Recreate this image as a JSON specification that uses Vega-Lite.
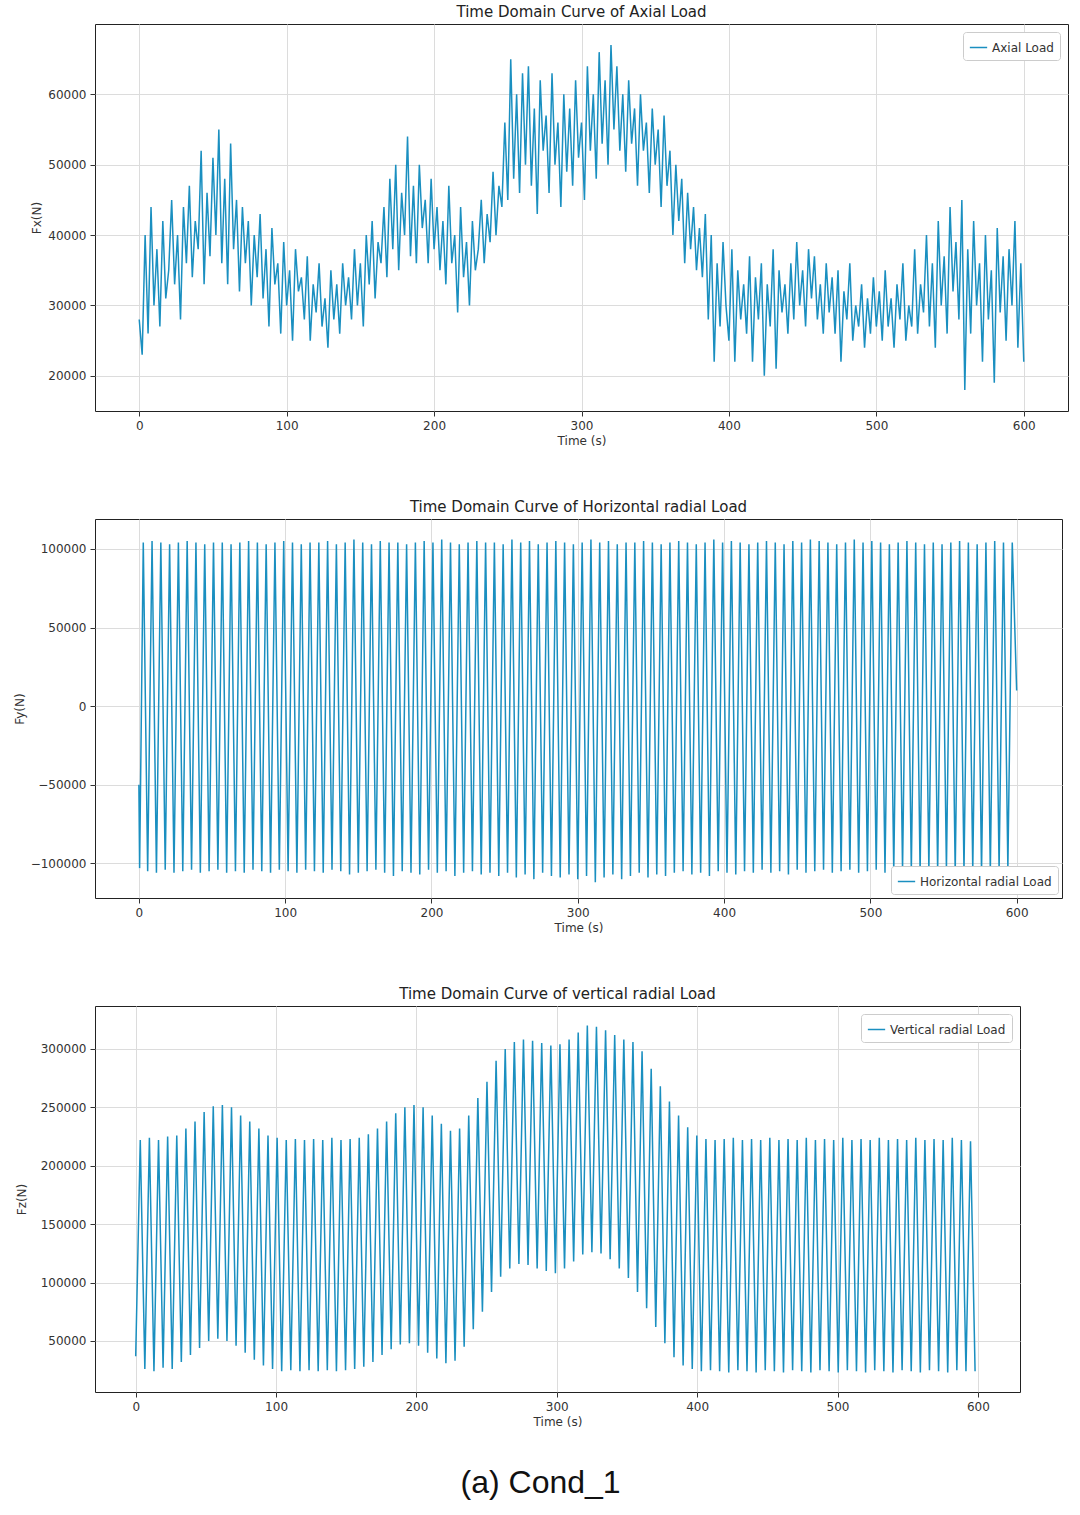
{
"$schema":"https://vega.github.io/schema/vega-lite/v6.json",
"padding":{"left":12,"top":4,"right":5,"bottom":5},
"align":"none",
"center":true,
"config":{"font":"DejaVu Sans","view":{"stroke":"#222"},"axis":{"gridColor":"#dcdcdc","labelFontSize":12,"labelColor":"#333","titleFontSize":12,"titleFontWeight":"normal","titleColor":"#333","domain":false,"tickColor":"#333","labelPadding":4,"format":"d"},"title":{"fontSize":15,"fontWeight":"normal","color":"#222","offset":4},"legend":{"labelFontSize":12,"labelColor":"#333","symbolType":"stroke","symbolStrokeWidth":1.5,"strokeColor":"#ccc","fillColor":"white","padding":6,"cornerRadius":3,"title":null,"symbolSize":300}},
"spacing":52,
"resolve":{"scale":{"color":"independent"},"legend":{"color":"independent"}},
"title":{"text":"(a)  Cond_1","orient":"bottom","anchor":"middle","font":"Liberation Sans","fontSize":32,"fontWeight":"normal","color":"#111","offset":40},
"vconcat":[
{"title":"Time Domain Curve of Axial Load","width":973,"height":387,
"data":{"values":[
{"t":0,"v":28000},{"t":2,"v":23000},{"t":4,"v":40000},{"t":6,"v":26000},{"t":8,"v":44000},{"t":10,"v":30000},{"t":12,"v":38000},{"t":14,"v":27000},{"t":16,"v":42000},{"t":18,"v":31000},{"t":20,"v":35000},
{"t":22,"v":45000},{"t":24,"v":33000},{"t":26,"v":40000},{"t":28,"v":28000},{"t":30,"v":44000},{"t":32,"v":36000},{"t":34,"v":47000},{"t":36,"v":34000},{"t":38,"v":42000},{"t":40,"v":38000},{"t":42,"v":52000},{"t":44,"v":33000},{"t":46,"v":46000},{"t":48,"v":37000},{"t":50,"v":51000},
{"t":52,"v":40000},{"t":54,"v":55000},{"t":56,"v":36000},{"t":58,"v":48000},{"t":60,"v":33000},{"t":62,"v":53000},{"t":64,"v":38000},{"t":66,"v":45000},{"t":68,"v":32000},{"t":70,"v":44000},{"t":72,"v":36000},{"t":74,"v":42000},{"t":76,"v":30000},{"t":78,"v":40000},{"t":80,"v":34000},
{"t":82,"v":43000},{"t":84,"v":31000},{"t":86,"v":38000},{"t":88,"v":27000},{"t":90,"v":41000},{"t":92,"v":33000},{"t":94,"v":36000},{"t":96,"v":26000},{"t":98,"v":39000},{"t":100,"v":30000},{"t":102,"v":35000},{"t":104,"v":25000},{"t":106,"v":38000},{"t":108,"v":32000},{"t":110,"v":34000},
{"t":112,"v":28000},{"t":114,"v":37000},{"t":116,"v":25000},{"t":118,"v":33000},{"t":120,"v":29000},{"t":122,"v":36000},{"t":124,"v":27000},{"t":126,"v":31000},{"t":128,"v":24000},{"t":130,"v":35000},{"t":132,"v":28000},{"t":134,"v":33000},{"t":136,"v":26000},{"t":138,"v":36000},{"t":140,"v":30000},
{"t":142,"v":34000},{"t":144,"v":28000},{"t":146,"v":38000},{"t":148,"v":30000},{"t":150,"v":36000},{"t":152,"v":27000},{"t":154,"v":40000},{"t":156,"v":33000},{"t":158,"v":42000},{"t":160,"v":31000},{"t":162,"v":39000},{"t":164,"v":36000},{"t":166,"v":44000},{"t":168,"v":34000},{"t":170,"v":48000},
{"t":172,"v":38000},{"t":174,"v":50000},{"t":176,"v":35000},{"t":178,"v":46000},{"t":180,"v":40000},{"t":182,"v":54000},{"t":184,"v":37000},{"t":186,"v":47000},{"t":188,"v":36000},{"t":190,"v":50000},{"t":192,"v":41000},{"t":194,"v":45000},{"t":196,"v":36000},{"t":198,"v":48000},{"t":200,"v":38000},
{"t":202,"v":44000},{"t":204,"v":35000},{"t":206,"v":42000},{"t":208,"v":33000},{"t":210,"v":47000},{"t":212,"v":36000},{"t":214,"v":40000},{"t":216,"v":29000},{"t":218,"v":44000},{"t":220,"v":34000},{"t":222,"v":39000},{"t":224,"v":30000},{"t":226,"v":42000},{"t":228,"v":35000},{"t":230,"v":38000},
{"t":232,"v":45000},{"t":234,"v":36000},{"t":236,"v":43000},{"t":238,"v":39000},{"t":240,"v":49000},{"t":242,"v":40000},{"t":244,"v":47000},{"t":246,"v":44000},{"t":248,"v":56000},{"t":250,"v":45000},{"t":252,"v":65000},{"t":254,"v":48000},{"t":256,"v":60000},{"t":258,"v":46000},{"t":260,"v":63000},
{"t":262,"v":50000},{"t":264,"v":64000},{"t":266,"v":47000},{"t":268,"v":58000},{"t":270,"v":43000},{"t":272,"v":62000},{"t":274,"v":52000},{"t":276,"v":57000},{"t":278,"v":46000},{"t":280,"v":63000},{"t":282,"v":50000},{"t":284,"v":56000},{"t":286,"v":44000},{"t":288,"v":60000},{"t":290,"v":49000},
{"t":292,"v":58000},{"t":294,"v":47000},{"t":296,"v":62000},{"t":298,"v":51000},{"t":300,"v":56000},{"t":302,"v":45000},{"t":304,"v":64000},{"t":306,"v":52000},{"t":308,"v":60000},{"t":310,"v":48000},{"t":312,"v":66000},{"t":314,"v":53000},{"t":316,"v":62000},{"t":318,"v":50000},{"t":320,"v":67000},
{"t":322,"v":55000},{"t":324,"v":64000},{"t":326,"v":52000},{"t":328,"v":60000},{"t":330,"v":49000},{"t":332,"v":62000},{"t":334,"v":53000},{"t":336,"v":58000},{"t":338,"v":47000},{"t":340,"v":60000},{"t":342,"v":52000},{"t":344,"v":56000},{"t":346,"v":46000},{"t":348,"v":58000},{"t":350,"v":50000},
{"t":352,"v":55000},{"t":354,"v":44000},{"t":356,"v":57000},{"t":358,"v":47000},{"t":360,"v":52000},{"t":362,"v":40000},{"t":364,"v":50000},{"t":366,"v":42000},{"t":368,"v":48000},{"t":370,"v":36000},{"t":372,"v":46000},{"t":374,"v":38000},{"t":376,"v":44000},{"t":378,"v":35000},{"t":380,"v":41000},
{"t":382,"v":34000},{"t":384,"v":43000},{"t":386,"v":28000},{"t":388,"v":40000},{"t":390,"v":22000},{"t":392,"v":36000},{"t":394,"v":27000},{"t":396,"v":39000},{"t":398,"v":30000},{"t":400,"v":25000},{"t":402,"v":38000},{"t":404,"v":22000},{"t":406,"v":35000},{"t":408,"v":28000},{"t":410,"v":33000},
{"t":412,"v":26000},{"t":414,"v":37000},{"t":416,"v":22000},{"t":418,"v":34000},{"t":420,"v":28000},{"t":422,"v":36000},{"t":424,"v":20000},{"t":426,"v":33000},{"t":428,"v":27000},{"t":430,"v":38000},{"t":432,"v":21000},{"t":434,"v":35000},{"t":436,"v":29000},{"t":438,"v":33000},{"t":440,"v":26000},
{"t":442,"v":36000},{"t":444,"v":28000},{"t":446,"v":39000},{"t":448,"v":30000},{"t":450,"v":35000},{"t":452,"v":27000},{"t":454,"v":38000},{"t":456,"v":31000},{"t":458,"v":37000},{"t":460,"v":28000},{"t":462,"v":33000},{"t":464,"v":26000},{"t":466,"v":36000},{"t":468,"v":29000},{"t":470,"v":34000},
{"t":472,"v":26000},{"t":474,"v":35000},{"t":476,"v":22000},{"t":478,"v":32000},{"t":480,"v":28000},{"t":482,"v":36000},{"t":484,"v":25000},{"t":486,"v":30000},{"t":488,"v":27000},{"t":490,"v":33000},{"t":492,"v":24000},{"t":494,"v":31000},{"t":496,"v":26000},{"t":498,"v":34000},{"t":500,"v":27000},
{"t":502,"v":32000},{"t":504,"v":25000},{"t":506,"v":35000},{"t":508,"v":27000},{"t":510,"v":31000},{"t":512,"v":24000},{"t":514,"v":33000},{"t":516,"v":28000},{"t":518,"v":36000},{"t":520,"v":25000},{"t":522,"v":30000},{"t":524,"v":27000},{"t":526,"v":38000},{"t":528,"v":26000},{"t":530,"v":33000},
{"t":532,"v":29000},{"t":534,"v":40000},{"t":536,"v":27000},{"t":538,"v":36000},{"t":540,"v":24000},{"t":542,"v":42000},{"t":544,"v":30000},{"t":546,"v":37000},{"t":548,"v":26000},{"t":550,"v":44000},{"t":552,"v":32000},{"t":554,"v":39000},{"t":556,"v":28000},{"t":558,"v":45000},{"t":560,"v":18000},
{"t":562,"v":38000},{"t":564,"v":26000},{"t":566,"v":42000},{"t":568,"v":30000},{"t":570,"v":36000},{"t":572,"v":22000},{"t":574,"v":40000},{"t":576,"v":28000},{"t":578,"v":35000},{"t":580,"v":19000},{"t":582,"v":41000},{"t":584,"v":29000},{"t":586,"v":37000},{"t":588,"v":25000},{"t":590,"v":38000},
{"t":592,"v":30000},{"t":594,"v":42000},{"t":596,"v":24000},{"t":598,"v":36000},{"t":600,"v":22000}
]},
"mark":{"type":"line","strokeWidth":1.5},
"encoding":{
"x":{"field":"t","type":"quantitative","scale":{"domain":[-30,630],"nice":false},"axis":{"values":[0,100,200,300,400,500,600],"title":"Time (s)"}},
"y":{"field":"v","type":"quantitative","scale":{"domain":[15000,70000],"nice":false,"zero":false},"axis":{"values":[20000,30000,40000,50000,60000],"title":"Fx(N)"}},
"color":{"datum":"Axial Load","scale":{"range":["#1a8fc0"]},"legend":{"orient":"top-right","offset":8}}}},
{"title":"Time Domain Curve of Horizontal radial Load","width":967,"height":379,
"data":{"values":[
{"t":0,"v":-50000},{"t":0.5,"v":-103000},
{"t":3,"v":104000},{"t":6,"v":-105000},{"t":9,"v":105000},{"t":12,"v":-106000},{"t":15,"v":104000},{"t":18,"v":-104000},{"t":21,"v":103000},{"t":24,"v":-106000},{"t":27,"v":104000},{"t":30,"v":-105000},{"t":33,"v":105000},{"t":36,"v":-104000},{"t":39,"v":104000},{"t":42,"v":-106000},{"t":45,"v":103000},{"t":48,"v":-105000},{"t":51,"v":104000},{"t":54,"v":-104000},{"t":57,"v":104000},{"t":60,"v":-106000},
{"t":63,"v":103000},{"t":66,"v":-105000},{"t":69,"v":104000},{"t":72,"v":-106000},{"t":75,"v":105000},{"t":78,"v":-104000},{"t":81,"v":104000},{"t":84,"v":-105000},{"t":87,"v":103000},{"t":90,"v":-106000},{"t":93,"v":104000},{"t":96,"v":-104000},{"t":99,"v":105000},{"t":102,"v":-105000},{"t":105,"v":104000},{"t":108,"v":-106000},{"t":111,"v":103000},{"t":114,"v":-104000},{"t":117,"v":104000},{"t":120,"v":-105000},
{"t":123,"v":104000},{"t":126,"v":-106000},{"t":129,"v":105000},{"t":132,"v":-104000},{"t":135,"v":103000},{"t":138,"v":-105000},{"t":141,"v":104000},{"t":144,"v":-107000},{"t":147,"v":106000},{"t":150,"v":-106000},{"t":153,"v":104000},{"t":156,"v":-105000},{"t":159,"v":103000},{"t":162,"v":-104000},{"t":165,"v":105000},{"t":168,"v":-106000},{"t":171,"v":104000},{"t":174,"v":-108000},{"t":177,"v":104000},{"t":180,"v":-105000},
{"t":183,"v":103000},{"t":186,"v":-106000},{"t":189,"v":104000},{"t":192,"v":-107000},{"t":195,"v":105000},{"t":198,"v":-104000},{"t":201,"v":104000},{"t":204,"v":-106000},{"t":207,"v":106000},{"t":210,"v":-105000},{"t":213,"v":104000},{"t":216,"v":-108000},{"t":219,"v":103000},{"t":222,"v":-106000},{"t":225,"v":104000},{"t":228,"v":-105000},{"t":231,"v":105000},{"t":234,"v":-107000},{"t":237,"v":104000},{"t":240,"v":-106000},
{"t":243,"v":104000},{"t":246,"v":-108000},{"t":249,"v":103000},{"t":252,"v":-106000},{"t":255,"v":106000},{"t":258,"v":-109000},{"t":261,"v":104000},{"t":264,"v":-107000},{"t":267,"v":105000},{"t":270,"v":-110000},{"t":273,"v":103000},{"t":276,"v":-106000},{"t":279,"v":104000},{"t":282,"v":-108000},{"t":285,"v":105000},{"t":288,"v":-109000},{"t":291,"v":104000},{"t":294,"v":-107000},{"t":297,"v":103000},{"t":300,"v":-110000},
{"t":303,"v":104000},{"t":306,"v":-108000},{"t":309,"v":106000},{"t":312,"v":-112000},{"t":315,"v":104000},{"t":318,"v":-109000},{"t":321,"v":105000},{"t":324,"v":-107000},{"t":327,"v":103000},{"t":330,"v":-110000},{"t":333,"v":104000},{"t":336,"v":-108000},{"t":339,"v":104000},{"t":342,"v":-106000},{"t":345,"v":105000},{"t":348,"v":-109000},{"t":351,"v":104000},{"t":354,"v":-107000},{"t":357,"v":103000},{"t":360,"v":-108000},
{"t":363,"v":104000},{"t":366,"v":-106000},{"t":369,"v":105000},{"t":372,"v":-105000},{"t":375,"v":104000},{"t":378,"v":-107000},{"t":381,"v":103000},{"t":384,"v":-106000},{"t":387,"v":104000},{"t":390,"v":-108000},{"t":393,"v":106000},{"t":396,"v":-105000},{"t":399,"v":104000},{"t":402,"v":-106000},{"t":405,"v":105000},{"t":408,"v":-107000},{"t":411,"v":104000},{"t":414,"v":-105000},{"t":417,"v":103000},{"t":420,"v":-106000},
{"t":423,"v":104000},{"t":426,"v":-104000},{"t":429,"v":105000},{"t":432,"v":-106000},{"t":435,"v":104000},{"t":438,"v":-105000},{"t":441,"v":103000},{"t":444,"v":-107000},{"t":447,"v":105000},{"t":450,"v":-104000},{"t":453,"v":104000},{"t":456,"v":-106000},{"t":459,"v":106000},{"t":462,"v":-105000},{"t":465,"v":105000},{"t":468,"v":-104000},{"t":471,"v":104000},{"t":474,"v":-106000},{"t":477,"v":103000},{"t":480,"v":-105000},
{"t":483,"v":104000},{"t":486,"v":-104000},{"t":489,"v":106000},{"t":492,"v":-106000},{"t":495,"v":104000},{"t":498,"v":-105000},{"t":501,"v":105000},{"t":504,"v":-104000},{"t":507,"v":104000},{"t":510,"v":-106000},{"t":513,"v":103000},{"t":516,"v":-105000},{"t":519,"v":104000},{"t":522,"v":-104000},{"t":525,"v":105000},{"t":528,"v":-105000},{"t":531,"v":104000},{"t":534,"v":-106000},{"t":537,"v":103000},{"t":540,"v":-104000},
{"t":543,"v":104000},{"t":546,"v":-105000},{"t":549,"v":103000},{"t":552,"v":-104000},{"t":555,"v":104000},{"t":558,"v":-106000},{"t":561,"v":105000},{"t":564,"v":-105000},{"t":567,"v":104000},{"t":570,"v":-104000},{"t":573,"v":103000},{"t":576,"v":-106000},{"t":579,"v":104000},{"t":582,"v":-105000},{"t":585,"v":105000},{"t":588,"v":-104000},{"t":591,"v":104000},{"t":594,"v":-103000},{"t":597,"v":104000},{"t":600,"v":10000}
]},
"mark":{"type":"line","strokeWidth":1.5},
"encoding":{
"x":{"field":"t","type":"quantitative","scale":{"domain":[-30,631],"nice":false},"axis":{"values":[0,100,200,300,400,500,600],"title":"Time (s)"}},
"y":{"field":"v","type":"quantitative","scale":{"domain":[-122000,119000],"nice":false,"zero":false},"axis":{"values":[-100000,-50000,0,50000,100000],"title":"Fy(N)"}},
"color":{"datum":"Horizontal radial Load","scale":{"range":["#1a8fc0"]},"legend":{"orient":"bottom-right","offset":4}}}},
{"title":"Time Domain Curve of vertical radial Load","width":925,"height":386,
"data":{"values":[
{"t":0,"v":37000},{"t":3.25,"v":222000},{"t":6.5,"v":26000},{"t":9.75,"v":224000},{"t":13,"v":24000},{"t":16.25,"v":222000},{"t":19.5,"v":27000},{"t":22.75,"v":225000},{"t":26,"v":26000},{"t":29.25,"v":226000},
{"t":32.5,"v":32000},{"t":35.75,"v":232000},{"t":39,"v":38000},{"t":42.25,"v":238000},{"t":45.5,"v":44000},{"t":48.75,"v":246000},{"t":52,"v":50000},{"t":55.25,"v":251000},{"t":58.5,"v":52000},{"t":61.75,"v":252000},
{"t":65,"v":50000},{"t":68.25,"v":250000},{"t":71.5,"v":46000},{"t":74.75,"v":243000},{"t":78,"v":40000},{"t":81.25,"v":238000},{"t":84.5,"v":34000},{"t":87.75,"v":232000},{"t":91,"v":29000},{"t":94.25,"v":226000},
{"t":97.5,"v":26000},{"t":100.75,"v":224000},{"t":104,"v":24000},{"t":107.25,"v":222000},{"t":110.5,"v":25000},{"t":113.75,"v":223000},{"t":117,"v":24000},{"t":120.25,"v":222000},{"t":123.5,"v":25000},{"t":126.75,"v":223000},
{"t":130,"v":24000},{"t":133.25,"v":222000},{"t":136.5,"v":25000},{"t":139.75,"v":224000},{"t":143,"v":24000},{"t":146.25,"v":222000},{"t":149.5,"v":25000},{"t":152.75,"v":223000},{"t":156,"v":26000},{"t":159.25,"v":224000},
{"t":162.5,"v":28000},{"t":165.75,"v":227000},{"t":169,"v":32000},{"t":172.25,"v":232000},{"t":175.5,"v":38000},{"t":178.75,"v":238000},{"t":182,"v":43000},{"t":185.25,"v":245000},{"t":188.5,"v":47000},{"t":191.75,"v":250000},
{"t":195,"v":48000},{"t":198.25,"v":252000},{"t":201.5,"v":46000},{"t":204.75,"v":250000},{"t":208,"v":40000},{"t":211.25,"v":243000},{"t":214.5,"v":35000},{"t":217.75,"v":236000},{"t":221,"v":31000},{"t":224.25,"v":230000},
{"t":227.5,"v":33000},{"t":230.75,"v":232000},{"t":234,"v":45000},{"t":237.25,"v":243000},{"t":240.5,"v":60000},{"t":243.75,"v":258000},{"t":247,"v":75000},{"t":250.25,"v":272000},{"t":253.5,"v":92000},{"t":256.75,"v":290000},
{"t":260,"v":105000},{"t":263.25,"v":300000},{"t":266.5,"v":112000},{"t":269.75,"v":306000},{"t":273,"v":116000},{"t":276.25,"v":308000},{"t":279.5,"v":115000},{"t":282.75,"v":307000},{"t":286,"v":112000},{"t":289.25,"v":305000},
{"t":292.5,"v":110000},{"t":295.75,"v":303000},{"t":299,"v":108000},{"t":302.25,"v":304000},{"t":305.5,"v":112000},{"t":308.75,"v":308000},{"t":312,"v":118000},{"t":315.25,"v":314000},{"t":318.5,"v":124000},{"t":321.75,"v":320000},
{"t":325,"v":126000},{"t":328.25,"v":319000},{"t":331.5,"v":125000},{"t":334.75,"v":316000},{"t":338,"v":120000},{"t":341.25,"v":312000},{"t":344.5,"v":112000},{"t":347.75,"v":308000},{"t":351,"v":104000},{"t":354.25,"v":306000},
{"t":357.5,"v":92000},{"t":360.75,"v":298000},{"t":364,"v":78000},{"t":367.25,"v":283000},{"t":370.5,"v":62000},{"t":373.75,"v":268000},{"t":377,"v":48000},{"t":380.25,"v":255000},{"t":383.5,"v":36000},{"t":386.75,"v":243000},
{"t":390,"v":29000},{"t":393.25,"v":233000},{"t":396.5,"v":26000},{"t":399.75,"v":226000},{"t":403,"v":24000},{"t":406.25,"v":223000},{"t":409.5,"v":25000},{"t":412.75,"v":222000},{"t":416,"v":24000},{"t":419.25,"v":223000},
{"t":422.5,"v":23000},{"t":425.75,"v":224000},{"t":429,"v":25000},{"t":432.25,"v":222000},{"t":435.5,"v":24000},{"t":438.75,"v":223000},{"t":442,"v":23000},{"t":445.25,"v":222000},{"t":448.5,"v":25000},{"t":451.75,"v":224000},
{"t":455,"v":24000},{"t":458.25,"v":222000},{"t":461.5,"v":23000},{"t":464.75,"v":223000},{"t":468,"v":25000},{"t":471.25,"v":222000},{"t":474.5,"v":24000},{"t":477.75,"v":224000},{"t":481,"v":23000},{"t":484.25,"v":222000},
{"t":487.5,"v":25000},{"t":490.75,"v":223000},{"t":494,"v":24000},{"t":497.25,"v":222000},{"t":500.5,"v":23000},{"t":503.75,"v":224000},{"t":507,"v":25000},{"t":510.25,"v":222000},{"t":513.5,"v":24000},{"t":516.75,"v":223000},
{"t":520,"v":23000},{"t":523.25,"v":222000},{"t":526.5,"v":25000},{"t":529.75,"v":224000},{"t":533,"v":24000},{"t":536.25,"v":222000},{"t":539.5,"v":23000},{"t":542.75,"v":223000},{"t":546,"v":25000},{"t":549.25,"v":222000},
{"t":552.5,"v":24000},{"t":555.75,"v":224000},{"t":559,"v":23000},{"t":562.25,"v":222000},{"t":565.5,"v":25000},{"t":568.75,"v":223000},{"t":572,"v":24000},{"t":575.25,"v":222000},{"t":578.5,"v":23000},{"t":581.75,"v":224000},
{"t":585,"v":25000},{"t":588.25,"v":222000},{"t":591.5,"v":24000},{"t":594.75,"v":221000},{"t":598,"v":24000}
]},
"mark":{"type":"line","strokeWidth":1.5},
"encoding":{
"x":{"field":"t","type":"quantitative","scale":{"domain":[-29,630],"nice":false},"axis":{"values":[0,100,200,300,400,500,600],"title":"Time (s)"}},
"y":{"field":"v","type":"quantitative","scale":{"domain":[6300,336800],"nice":false,"zero":false},"axis":{"values":[50000,100000,150000,200000,250000,300000],"title":"Fz(N)","titlePadding":12}},
"color":{"datum":"Vertical radial Load","scale":{"range":["#1a8fc0"]},"legend":{"orient":"top-right","offset":8}}}}
]}
